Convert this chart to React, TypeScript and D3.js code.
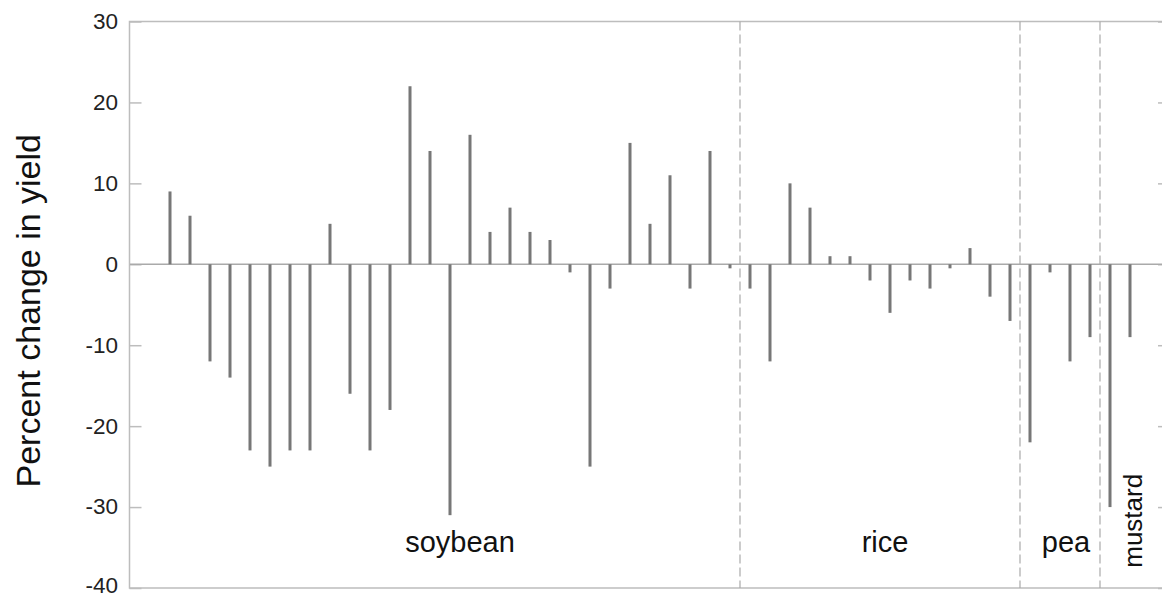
import React, { useEffect, useRef } from 'react';
import * as d3 from 'd3';

// percent change in yield, one value per study
const soybean = [9, 6, -12, -14, -23, -25, -23, -23, 5, -16, -23, -18, 22, 14, -31, 16, 4, 7, 4, 3, -1, -25, -3, 15, 5, 11, -3, 14, -0.5];
const rice = [-3, -12, 10, 7, 1, 1, -2, -6, -2, -3, -0.5, 2, -4, -7];
const pea = [-22, -1, -12, -9];
const mustard = [-30, -9];

const crops = ['soybean', 'rice', 'pea', 'mustard'];
const yTicks = [30, 20, 10, 0, -10, -20, -30, -40];
// where each crop label sits, in bar-index units
const labelPos = [14.5, 35.75, 44.8, 48.15];

const W = 1162;
const H = 598;
const FONT = '"Liberation Sans", Arial, Helvetica, sans-serif';

export default function App() {
  const svgRef = useRef<SVGSVGElement>(null);

  useEffect(() => {
    if (!svgRef.current) return;
    const groups = [soybean, rice, pea, mustard];
    const data: { i: number; v: number; crop: string }[] = [];
    groups.forEach((g, gi) => g.forEach(v => data.push({ i: data.length, v, crop: crops[gi] })));

    const left = 130, right = 1170, top = 21.5, bottom = 588;

    const x = d3.scalePoint<number>()
      .domain(data.map(d => d.i))
      .range([left, right])
      .padding(2);
    // fractional positions (separators, labels) on the same spacing
    const xi = d3.scaleLinear().domain([0, data.length - 1]).range([x(0)!, x(data.length - 1)!]);

    const y = d3.scaleLinear().domain([-40, 30]).range([bottom, top]);

    const svg = d3.select(svgRef.current);
    svg.selectAll('*').remove();

    const frame = '#bdbdbd';

    // frame
    svg.append('rect')
      .attr('x', left - 0.5).attr('y', top)
      .attr('width', right - left + 0.5).attr('height', bottom - top)
      .attr('fill', 'none').attr('stroke', frame).attr('stroke-width', 1.5);

    // y axis ticks pointing inward, on both sides
    const ga = svg.append('g').attr('transform', `translate(${left - 0.5},0)`)
      .call(d3.axisRight(y).tickValues(yTicks).tickSize(12).tickFormat(() => ''));
    ga.select('.domain').remove();
    ga.selectAll('line').attr('stroke', frame).attr('stroke-width', 1.5);

    const gb = svg.append('g').attr('transform', `translate(${right},0)`)
      .call(d3.axisLeft(y).tickValues(yTicks).tickSize(12).tickFormat(() => ''));
    gb.select('.domain').remove();
    gb.selectAll('line').attr('stroke', frame).attr('stroke-width', 1.5);

    const fs = 22.5;
    svg.append('g').selectAll('text')
      .data(yTicks)
      .enter()
      .append('text')
      .attr('x', left - 12)
      // keep the lowest label inside the page
      .attr('y', d => Math.min(y(d) + fs * 0.33, H - fs * 0.22))
      .attr('text-anchor', 'end')
      .attr('font-family', FONT)
      .attr('font-size', fs)
      .attr('fill', '#222')
      .text(d => d);

    // dashed separators between crops
    let acc = 0;
    const seps: number[] = [];
    groups.slice(0, -1).forEach(g => { acc += g.length; seps.push(acc - 0.5); });
    svg.append('g').selectAll('line')
      .data(seps)
      .enter()
      .append('line')
      .attr('x1', d => xi(d))
      .attr('x2', d => xi(d))
      .attr('y1', top)
      .attr('y2', bottom)
      .attr('stroke', '#aaaaaa')
      .attr('stroke-width', 1.2)
      .attr('stroke-dasharray', '9,4');

    // zero line
    svg.append('line').attr('x1', left).attr('x2', right).attr('y1', y(0)).attr('y2', y(0))
      .attr('stroke', '#aaaaaa').attr('stroke-width', 1.5);

    // bars
    const bw = 3;
    svg.append('g').selectAll('rect')
      .data(data)
      .enter()
      .append('rect')
      .attr('x', d => x(d.i)! - bw / 2)
      .attr('width', bw)
      .attr('y', d => y(Math.max(0, d.v)))
      .attr('height', d => Math.abs(y(d.v) - y(0)))
      .attr('fill', '#777777');

    // crop labels
    crops.forEach((c, k) => {
      const t = svg.append('text')
        .attr('font-family', FONT)
        .attr('fill', '#111')
        .text(c);
      if (c === 'mustard') {
        t.attr('transform', `translate(${xi(labelPos[k]) + 9},${y(-37.5)}) rotate(-90)`)
          .attr('font-size', 26)
          .attr('text-anchor', 'start');
      } else {
        t.attr('x', xi(labelPos[k]))
          .attr('y', y(-35.5))
          .attr('font-size', 29)
          .attr('text-anchor', 'middle');
      }
    });

    // y label
    svg.append('text')
      .attr('transform', `translate(${40},${(top + bottom) / 2 + 6}) rotate(-90)`)
      .attr('text-anchor', 'middle')
      .attr('font-family', FONT)
      .attr('font-size', 34)
      .attr('fill', '#111')
      .text('Percent change in yield');
  }, []);

  return (
    <div style={{ position: 'fixed', left: 0, top: 0, width: W, height: H, background: '#fff' }}>
      <svg ref={svgRef} width={W} height={H} style={{ display: 'block' }} />
    </div>
  );
}
